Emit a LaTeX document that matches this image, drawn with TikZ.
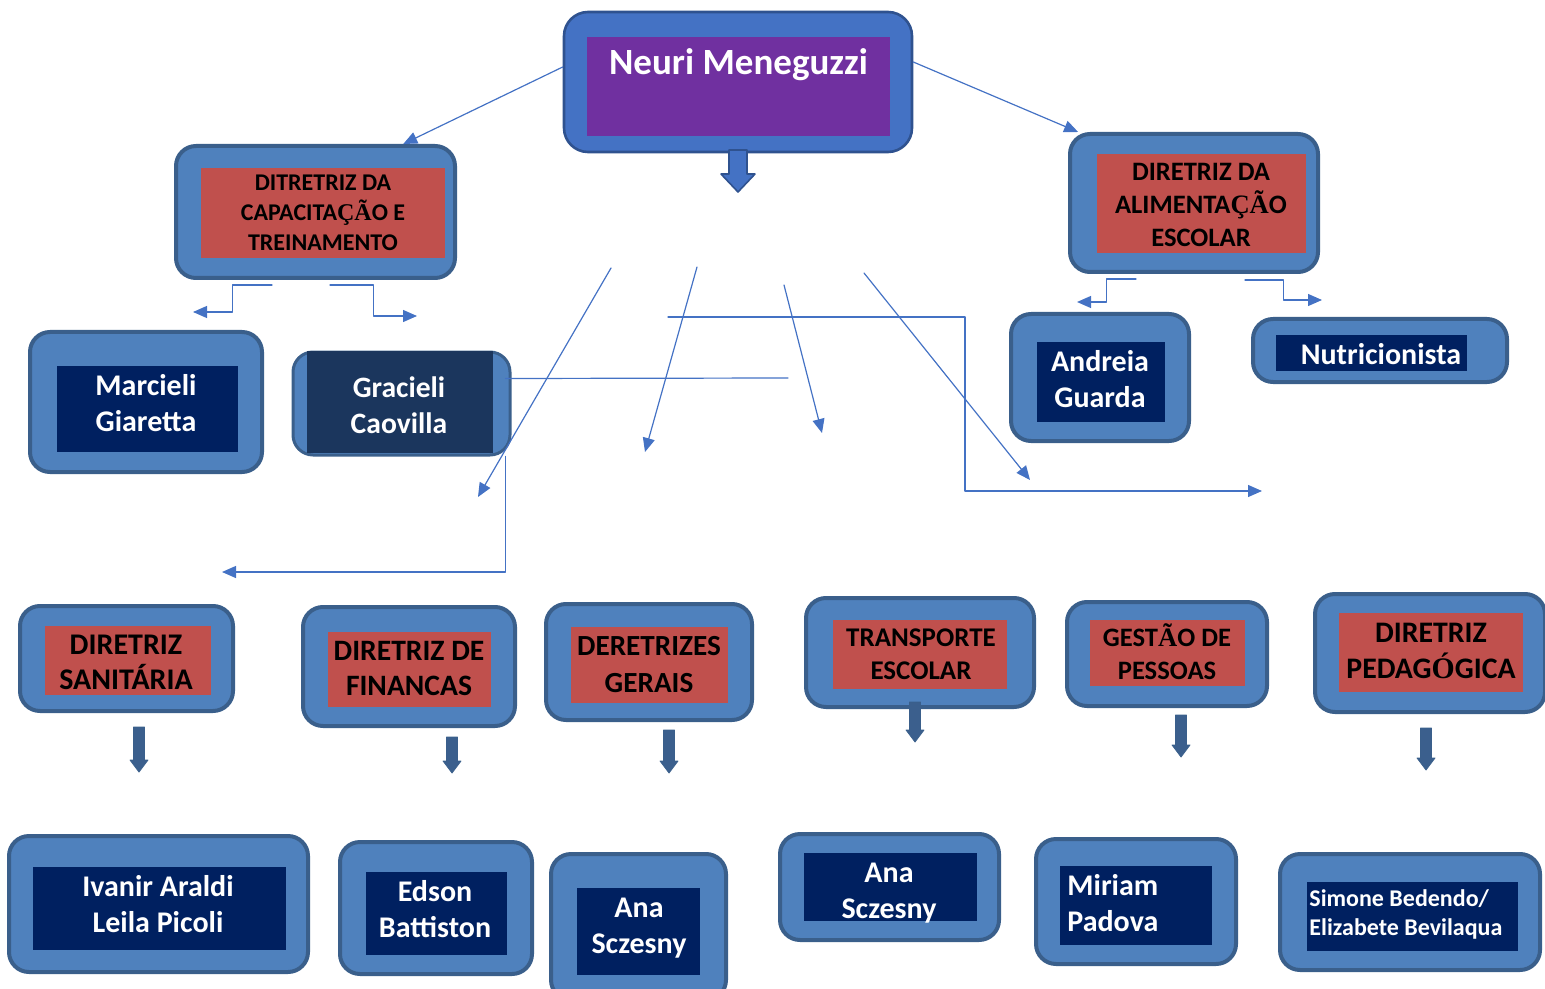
\documentclass[tikz,border=0pt]{standalone}
\usepackage{fontspec}
\setmainfont{Carlito}
\newfontfamily\accfont{Liberation Serif}
\usepackage{tikz}
\usetikzlibrary{arrows.meta,calc,fit,positioning}

\definecolor{bossblue}{HTML}{4472C4}
\definecolor{bossedge}{HTML}{2F528F}
\definecolor{bosspurple}{HTML}{7030A0}
\definecolor{boxblue}{HTML}{4F81BD}
\definecolor{boxedge}{HTML}{3A5F8B}
\definecolor{boxred}{HTML}{C0504D}
\definecolor{navy}{HTML}{002060}
\definecolor{deepnavy}{HTML}{1B365D}
\definecolor{linkblue}{HTML}{4472C4}
\definecolor{steel}{HTML}{3B5F8D}

\tikzset{
  bossbox/.style={draw=bossedge,fill=bossblue,line width=1.3pt,rounded corners=12pt,inner sep=0pt},
  outerbox/.style={draw=boxedge,fill=boxblue,line width=2pt,rounded corners=10pt,inner sep=0pt},
  redbox/.style={fill=boxred,inner sep=0pt},
  navybox/.style={fill=navy,inner sep=0pt},
  redtext/.style={align=center,text=black,inner sep=0pt},
  navytext/.style={align=center,text=white,inner sep=0pt},
  link/.style={draw=linkblue,line width=0.6pt,-{Triangle[length=7pt,width=6pt]}},
  elbow/.style={to path={-| ($(\tikztostart)!0.5!(\tikztotarget)$) |- (\tikztotarget)}},
  lowarrow/.style={fill=steel,draw=boxedge,line width=0.4pt},
  toparrow/.style={fill=bossblue,draw=bossedge,line width=0.8pt}
}
% #2 x, #3 top, #4 tip, #5 half shaft, #6 half head, #7 head length
\newcommand{\blockdown}[7][lowarrow]{%
  \filldraw[#1] (#2-#5,#3) -- (#2+#5,#3) -- (#2+#5,#4-#7) -- (#2+#6,#4-#7)
    -- (#2,#4) -- (#2-#6,#4-#7) -- (#2-#5,#4-#7) -- cycle;}
\newcommand{\fsz}[2]{\bfseries\fontsize{#1}{#2}\selectfont}

\begin{document}
\begin{tikzpicture}[x=0.5pt,y=-0.5pt,line cap=round,line join=round]
  \useasboundingbox (0,0) rectangle (1545,989);

  % Head
  \node[bossbox,fit={(564,12) (912,152)}] (boss) {};
  \node[fill=bosspurple,inner sep=0pt,fit={(587,37) (890,136)}] (bossIn) {};
  \node[text=white,font=\fsz{18.5}{22},below=2.5pt of bossIn.north] (bossName) {Neuri Meneguzzi};
  \blockdown[toparrow]{738}{150}{192}{9}{17}{18}

  % Second level
  \node[outerbox,fit={(176,146) (455,278)}] (cap) {};
  \node[redbox,fit={(201,168) (445,258)}] (capIn) {};
  \node[redtext,font=\fsz{12}{15}] (capText) at (323,213)
    {DITRETRIZ DA\\CAPACITA{\accfont ÇÃ}O E\\TREINAMENTO};
  \node[outerbox,fit={(1070,134) (1318,272)}] (alim) {};
  \node[redbox,fit={(1097,154) (1306,253)}] (alimIn) {};
  \node[redtext,font=\fsz{13.3}{16.3}] (alimText) at (1201,205)
    {DIRETRIZ DA\\ALIMENTA{\accfont ÇÃ}O\\ESCOLAR};

  % Third level
  \node[outerbox,fit={(30,332) (262,472)}] (marc) {};
  \node[navybox,fit={(57,366) (238,452)}] (marcIn) {};
  \node[navytext,font=\fsz{15}{18}] (marcText) at (146,403) {Marcieli\\Giaretta};
  \node[outerbox,line width=1.5pt,fit={(293,352) (510,455)}] (grac) {};
  \node[navybox,fill=deepnavy,fit={(307,351) (493,453)}] (gracIn) {};
  \node[navytext,font=\fsz{14.8}{18}] (gracText) at (399,405) {Gracieli\\Caovilla};
  \node[outerbox,fit={(1011,314) (1189,441)}] (andr) {};
  \node[navybox,fit={(1037,342) (1165,422)}] (andrIn) {};
  \node[navytext,font=\fsz{15}{18}] (andrText) at (1100,379) {Andreia\\Guarda};
  \node[outerbox,fit={(1253,319) (1507,382)}] (nutr) {};
  \node[navybox,fit={(1276,335) (1467,371)}] (nutrIn) {};
  \node[navytext,font=\fsz{15}{18}] (nutrText) at (1381,354) {Nutricionista};

  % Directives
  \node[outerbox,fit={(20,606) (233,711)}] (sani) {};
  \node[redbox,fit={(45,626) (211,695)}] (saniIn) {};
  \node[redtext,font=\fsz{15}{17.5}] (saniText) at (126,662) {DIRETRIZ\\SANITÁRIA};
  \node[outerbox,fit={(303,607) (515,726)}] (fina) {};
  \node[redbox,fit={(328,632) (491,707)}] (finaIn) {};
  \node[redtext,font=\fsz{14.8}{17.5}] (finaText) at (409,668) {DIRETRIZ DE\\FINANCAS};
  \node[outerbox,fit={(546,604) (752,720)}] (gera) {};
  \node[redbox,fit={(571,627) (728,703)}] (geraIn) {};
  \node[redtext,font=\fsz{14.6}{18.5}] (geraText) at (649,665) {DERETRIZES\\GERAIS};
  \node[outerbox,fit={(806,598) (1034,707)}] (tran) {};
  \node[redbox,fit={(833,620) (1007,689)}] (tranIn) {};
  \node[redtext,font=\fsz{13.5}{16.5}] (tranText) at (921,654) {TRANSPORTE\\ESCOLAR};
  \node[outerbox,fit={(1067,602) (1267,706)}] (gest) {};
  \node[redbox,fit={(1090,620) (1245,686)}] (gestIn) {};
  \node[redtext,font=\fsz{13.3}{16.5}] (gestText) at (1167,652) {GEST{\accfont Ã}O DE\\PESSOAS};
  \node[outerbox,fit={(1315,594) (1545,712)}] (peda) {};
  \node[redbox,fit={(1339,613) (1523,692)}] (pedaIn) {};
  \node[redtext,font=\fsz{14.9}{18}] (pedaText) at (1431,651) {DIRETRIZ\\PEDAG{\accfont Ó}GICA};

  \blockdown{139}{727}{772}{5.5}{9}{12}
  \blockdown{452}{737}{773}{5.5}{9}{12}
  \blockdown{669}{730}{773}{5.5}{9}{12}
  \blockdown{915}{702}{742}{5.5}{9}{12}
  \blockdown{1181}{715}{757}{5.5}{9}{12}
  \blockdown{1426}{728}{770}{5.5}{9}{12}

  % People
  \node[outerbox,fit={(9,836) (308,972)}] (ivan) {};
  \node[navybox,fit={(33,867) (286,950)}] (ivanIn) {};
  \node[navytext,font=\fsz{15}{18}] (ivanText) at (158,904) {Ivanir Araldi\\Leila Picoli};
  \node[outerbox,fit={(340,842) (532,974)}] (edso) {};
  \node[navybox,fit={(366,872) (507,955)}] (edsoIn) {};
  \node[navytext,font=\fsz{15}{18}] (edsoText) at (435,909) {Edson\\Battiston};
  \node[outerbox,fit={(551,854) (726,1000)}] (anaA) {};
  \node[navybox,fit={(577,888) (700,975)}] (anaAIn) {};
  \node[navytext,font=\fsz{15}{18}] (anaAText) at (639,928) {Ana\\Sczesny};
  \node[outerbox,fit={(780,834) (999,940)}] (anaB) {};
  \node[navybox,fit={(804,853) (977,921)}] (anaBIn) {};
  \node[navytext,font=\fsz{15}{18}] (anaBText) at (889,893) {Ana\\Sczesny};
  \node[outerbox,fit={(1036,839) (1236,964)}] (miri) {};
  \node[navybox,fit={(1060,866) (1212,945)}] (miriIn) {};
  \node[navytext,align=left,anchor=west,font=\fsz{15}{18}] (miriText) at (1067,903) {Miriam\\Padova};
  \node[outerbox,fit={(1280,854) (1540,970)}] (simo) {};
  \node[navybox,fit={(1307,882) (1518,951)}] (simoIn) {};
  \node[navytext,align=left,anchor=west,font=\fsz{12}{14.5}] (simoText) at (1309,914)
    {Simone Bedendo/\\Elizabete Bevilaqua};

  % Loose ends
  \coordinate (capL0) at (272,285); \coordinate (capL1) at (193,312);
  \coordinate (capR0) at (330,285); \coordinate (capR1) at (417,316);
  \coordinate (alimL0) at (1136,279); \coordinate (alimL1) at (1077,302);
  \coordinate (alimR0) at (1245,280); \coordinate (alimR1) at (1322,300);
  \coordinate (gracEnd) at (788,378);
  \coordinate (sweep) at (222,572);
  \coordinate (hookA) at (668,317); \coordinate (hookB) at (1262,491);

  % Connectors
  \draw[link] ([yshift=7.5pt]boss.west) -- ($(cap.north west)!0.81!(cap.north east)$);
  \draw[link] ([yshift=10pt]boss.east) -- ($(alim.north west)!0.04!(alim.north east)$);
  \draw[link] (capL0) to[elbow] (capL1);
  \draw[link] (capR0) to[elbow] (capR1);
  \draw[link] (alimL0) to[elbow] (alimL1);
  \draw[link] (alimR0) to[elbow] (alimR1);
  \draw[link,-] ([yshift=12.5pt,xshift=-3pt]grac.east) -- (gracEnd);
  \draw[link] ([xshift=-3pt]grac.south east) |- (sweep);
  \draw[link] (hookA) to[elbow] (hookB);
  \foreach \i/\a/\b/\c/\d in {1/611/268/478/497, 2/697/267/645/452,
                              3/784/285/822/433, 4/864/273/1030/480}{
    \coordinate (fan\i) at (\a,\b);
    \coordinate (fanEnd\i) at (\c,\d);
    \draw[link] (fan\i) -- (fanEnd\i);
  }

\end{tikzpicture}
\end{document}
